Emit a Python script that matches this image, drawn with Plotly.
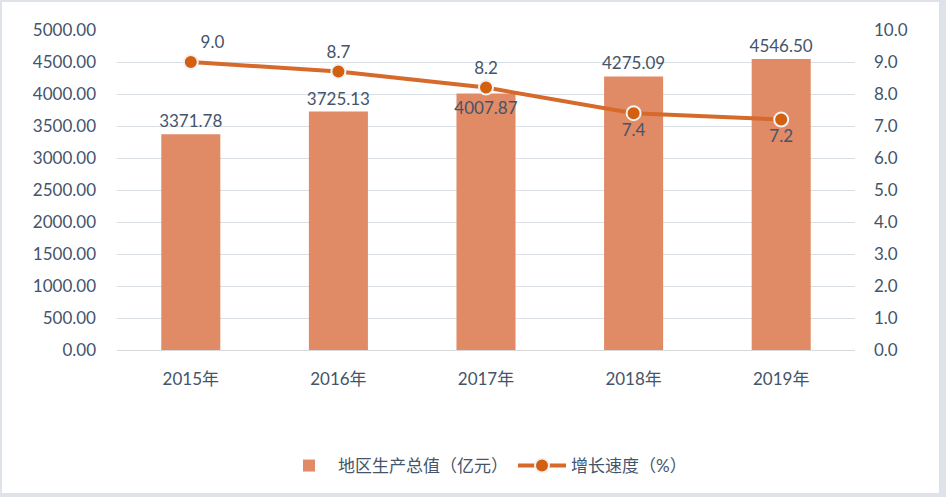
import plotly.graph_objects as go

years = ["2015年", "2016年", "2017年", "2018年", "2019年"]
gdp = [3371.78, 3725.13, 4007.87, 4275.09, 4546.50]
growth = [9.0, 8.7, 8.2, 7.4, 7.2]
bar_text_pos = ["outside", "outside", "inside", "outside", "outside"]
line_text_pos = ["top right", "top center", "top center", "bottom center", "bottom center"]

W, H = 946, 497
ML, MR, MT, MB = 117, 91, 30, 147
pw, ph = W - ML - MR, H - MT - MB

FONT = "Lato, 'Noto Sans CJK SC', sans-serif"
TXT = "#44546A"
FS = 17

fig = go.Figure()
fig.add_trace(go.Bar(
    x=years, y=gdp, name="地区生产总值（亿元）",
    marker=dict(color="#E08A66", line=dict(width=0)),
    width=0.4,
    text=[f"{v:.2f}" for v in gdp], textposition=bar_text_pos,
    insidetextanchor="end", cliponaxis=False, textangle=0, constraintext="none",
    textfont=dict(size=FS, color=TXT, family=FONT),
    outsidetextfont=dict(size=FS, color=TXT, family=FONT),
    insidetextfont=dict(size=FS, color=TXT, family=FONT),
))
fig.add_trace(go.Scatter(
    x=years, y=growth, name="增长速度（%）", yaxis="y2",
    mode="lines+markers+text",
    line=dict(color="#D56A2B", width=4),
    marker=dict(size=14, color="#D35F10", line=dict(color="#F2F2F2", width=2)),
    text=[f"{v:.1f}" for v in growth], textposition=line_text_pos,
    textfont=dict(size=FS, color=TXT, family=FONT), cliponaxis=False,
))

fig.update_layout(
    width=W, height=H,
    margin=dict(l=ML, r=MR, t=MT, b=MB),
    paper_bgcolor="#DEE3EA", plot_bgcolor="rgba(0,0,0,0)",
    font=dict(family=FONT, size=FS, color=TXT),
    bargap=0.6,
    xaxis=dict(showgrid=False, showline=True, linecolor="#D9D9D9", linewidth=1,
               ticks="", tickfont=dict(size=FS, color=TXT), ticklabelstandoff=14),
    yaxis=dict(range=[0, 5000], dtick=500, tickformat=".2f", showgrid=True,
               gridcolor="#DADFE6", gridwidth=1, zeroline=False,
               tickfont=dict(size=FS, color=TXT), ticklabelstandoff=20),
    yaxis2=dict(range=[0, 10], dtick=1, tickformat=".1f", overlaying="y", side="right",
                showgrid=False, zeroline=False, tickfont=dict(size=FS, color=TXT),
                ticklabelstandoff=18),
    legend=dict(orientation="h", x=0.5, xanchor="center", y=(MT + ph - 466) / ph,
                yanchor="middle", font=dict(size=FS, color=TXT), itemwidth=48,
                bgcolor="rgba(0,0,0,0)", traceorder="normal"),
    showlegend=True,
    shapes=[dict(type="rect", xref="paper", yref="paper", layer="below",
                 x0=(2 - ML) / pw, x1=(939 - ML) / pw,
                 y0=(H - MB - 493) / ph, y1=(H - MB - 2) / ph,
                 fillcolor="white", line=dict(width=0))],
)
fig.write_html("out.html")
